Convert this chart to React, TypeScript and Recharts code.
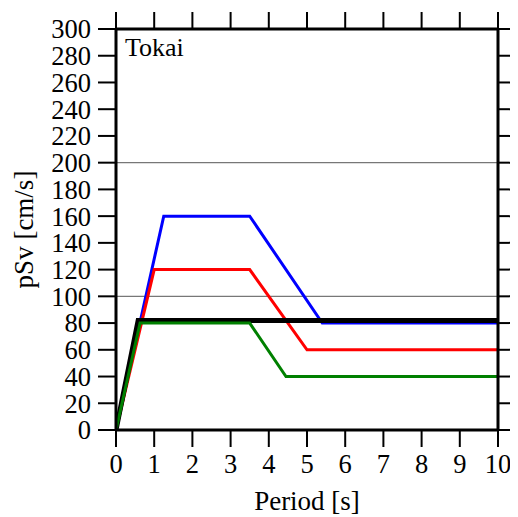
import { Label, Line, LineChart, ReferenceLine, XAxis, YAxis } from "recharts";

const FONT = "'Liberation Serif', 'Times New Roman', serif";

// spectra: period [s] vs pSv [cm/s]
const blueSeries = [
  { x: 0, y: 0 },
  { x: 1.25, y: 160 },
  { x: 3.5, y: 160 },
  { x: 5.4, y: 80 },
  { x: 10, y: 80 },
];

const redSeries = [
  { x: 0, y: 0 },
  { x: 1, y: 120 },
  { x: 3.5, y: 120 },
  { x: 5, y: 60 },
  { x: 10, y: 60 },
];

const blackSeries = [
  { x: 0, y: 0 },
  { x: 0.58, y: 82 },
  { x: 10, y: 82 },
];

const greenSeries = [
  { x: 0, y: 0 },
  { x: 0.63, y: 80 },
  { x: 3.5, y: 80 },
  { x: 4.45, y: 40 },
  { x: 10, y: 40 },
];

const xTicks = [0, 1, 2, 3, 4, 5, 6, 7, 8, 9, 10];
const yTicks = [0, 20, 40, 60, 80, 100, 120, 140, 160, 180, 200, 220, 240, 260, 280, 300];
const gridLines = [100, 200];

const axisLine = { stroke: "#000", strokeWidth: 3 };
const tickLine = { stroke: "#000", strokeWidth: 2 };
const tickStyle = { fill: "#000", fontSize: 26.5, fontFamily: FONT };
const noLabel = () => <g />;

const YLabel = (props: any) => {
  const { viewBox } = props;
  const cx = viewBox.x + 25;
  const cy = viewBox.y + viewBox.height / 2;
  return (
    <text
      x={cx}
      y={cy}
      transform={`rotate(-90, ${cx}, ${cy})`}
      textAnchor="middle"
      fontSize={27}
      fontFamily={FONT}
      fill="#000"
    >
      pSv [cm/s]
    </text>
  );
};

const lineProps = {
  xAxisId: "bottom",
  yAxisId: "left",
  dataKey: "y",
  dot: false,
  isAnimationActive: false,
};

const App = () => {
  return (
    <div style={{ position: "relative", width: 510, height: 509 }}>
      <LineChart width={510} height={509} margin={{ top: 20, right: 19, bottom: 0, left: 0 }}>
        <XAxis
          xAxisId="bottom"
          type="number"
          dataKey="x"
          domain={[0, 10]}
          ticks={xTicks}
          height={87}
          tickSize={17}
          tickMargin={7}
          axisLine={axisLine}
          tickLine={tickLine}
          tick={tickStyle}
          allowDataOverflow
        >
          <Label
            value="Period [s]"
            position="insideBottom"
            offset={7}
            style={{ fontSize: 27, fontFamily: FONT, fill: "#000" }}
          />
        </XAxis>
        <XAxis
          xAxisId="top"
          orientation="top"
          type="number"
          dataKey="x"
          domain={[0, 10]}
          ticks={xTicks}
          height={1}
          tickSize={17}
          axisLine={axisLine}
          tickLine={tickLine}
          tick={noLabel}
          allowDataOverflow
        />
        <YAxis
          yAxisId="left"
          type="number"
          domain={[0, 300]}
          ticks={yTicks}
          width={108}
          tickSize={18}
          tickMargin={7}
          axisLine={axisLine}
          tickLine={tickLine}
          tick={tickStyle}
          interval={0}
          allowDataOverflow
        >
          <Label content={YLabel} />
        </YAxis>
        <YAxis
          yAxisId="right"
          orientation="right"
          type="number"
          domain={[0, 300]}
          ticks={yTicks}
          width={1}
          tickSize={14}
          axisLine={axisLine}
          tickLine={tickLine}
          tick={noLabel}
          interval={0}
          allowDataOverflow
        />
        {gridLines.map((v) => (
          <ReferenceLine key={v} xAxisId="bottom" yAxisId="left" y={v} stroke="#777" strokeWidth={1.3} />
        ))}
        <Line {...lineProps} data={blueSeries} stroke="#0000ff" strokeWidth={3} />
        <Line {...lineProps} data={redSeries} stroke="#ff0000" strokeWidth={3} />
        <Line {...lineProps} data={blackSeries} stroke="#000" strokeWidth={5} />
        <Line {...lineProps} data={greenSeries} stroke="#008000" strokeWidth={3} />
        {/* invisible series so the top/right frame axes get a scale */}
        <Line
          xAxisId="top"
          yAxisId="right"
          data={blackSeries}
          dataKey="y"
          stroke="none"
          dot={false}
          isAnimationActive={false}
        />
      </LineChart>
      <svg
        width={510}
        height={509}
        style={{ position: "absolute", left: 0, top: 0, pointerEvents: "none" }}
      >
        <text x={117} y={48} fontSize={26} fontFamily={FONT} fill="#000">
          Tokai
        </text>
      </svg>
    </div>
  );
};

export default App;
